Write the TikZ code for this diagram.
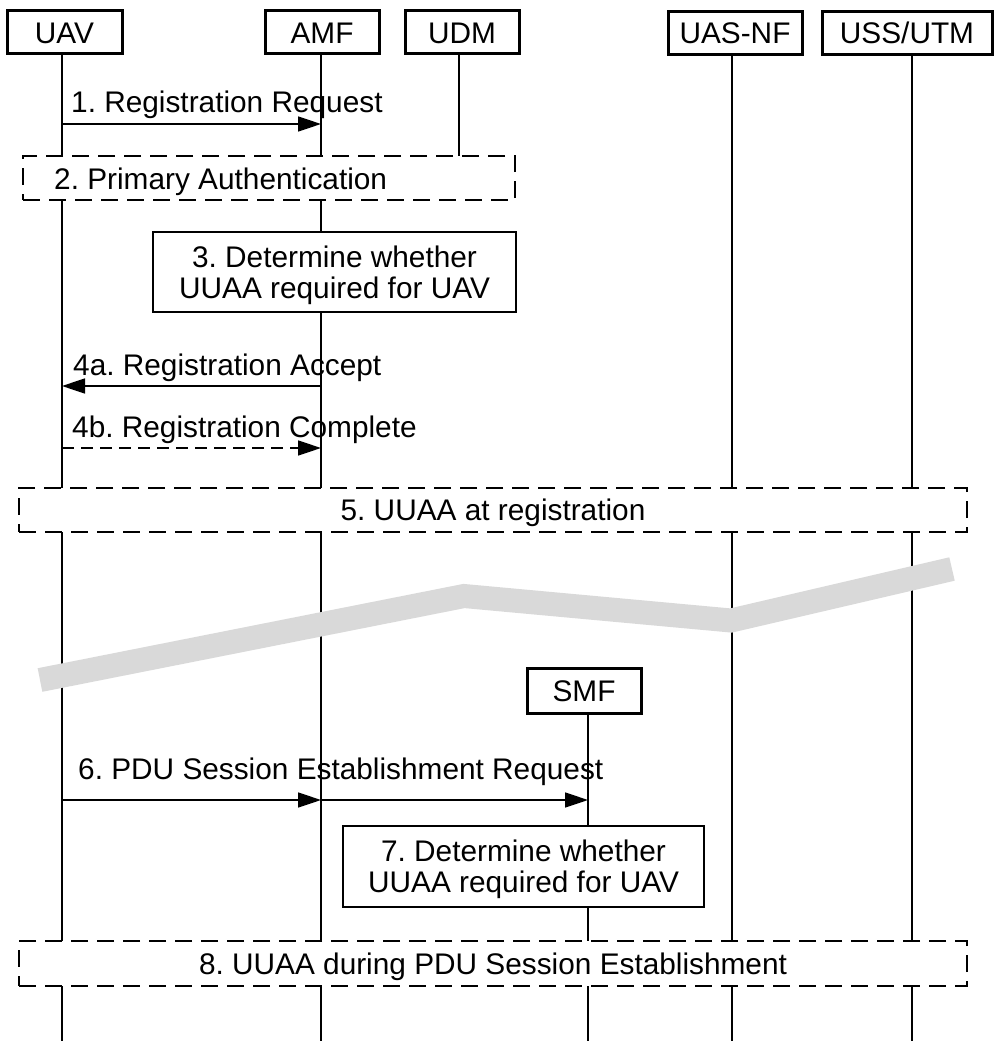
\documentclass[tikz,border=0pt]{standalone}
\usepackage{fontspec}
\setmainfont{Liberation Sans}
\usetikzlibrary{arrows.meta,calc}
\frenchspacing
\begin{document}
\begin{tikzpicture}[x=1pt,y=-1pt,
  every node/.style={font=\fontsize{29.8}{31}\selectfont},
  part/.style={draw, line width=3pt, inner sep=0pt, minimum height=43pt, text height=21.5pt, text depth=0pt},
  life/.style={line width=1.2pt},
  msg/.style={line width=1.6pt, -{Triangle[length=23pt,width=15pt]}},
  dmsg/.style={msg, dash pattern=on 12pt off 7pt},
  proc/.style={draw, line width=1.8pt, fill=white, align=center, inner sep=0pt, text depth=-3pt},
  grp/.style={draw, line width=2.5pt, dash pattern=on 17pt off 9pt, fill=white, inner sep=0pt, text height=21.5pt, text depth=0pt},
  lbl/.style={anchor=base west, inner sep=0pt},
  band/.style={line width=24pt, black!15, line join=miter, line cap=butt},
]
\useasboundingbox (0,0) rectangle (994,1041);
\fill[white] (0,0) rectangle (994,1041);

% participants
\node[part, minimum width=115pt] (UAV) at (64.5,32.5) {UAV};
\node[part, minimum width=114pt] (AMF) at (322,32.5) {AMF};
\node[part, minimum width=114pt] (UDM) at (462,32.5) {UDM};
\node[part, minimum width=134pt] (UASNF) at (735,33) {UAS-NF};
\node[part, minimum width=170pt] (USS) at (907,33) {USS/UTM};
\node[part, minimum width=114pt, minimum height=45pt] (SMF) at (584,690.5) {SMF};

% lifeline ends
\coordinate (eUAV) at (62,1041);
\coordinate (eAMF) at (321,1041);
\coordinate (eUDM) at (459,156);
\coordinate (eUASNF) at (732,1041);
\coordinate (eUSS) at (912,1041);
\coordinate (eSMF) at (588,1041);

% lifelines
\draw[life] (UAV.south -| eUAV) -- (eUAV);
\draw[life] (AMF.south -| eAMF) -- (eAMF);
\draw[life] (UDM.south -| eUDM) -- (eUDM);
\draw[life] (UASNF.south -| eUASNF) -- (eUASNF);
\draw[life] (USS.south -| eUSS) -- (eUSS);
\draw[life] (SMF.south -| eSMF) -- (eSMF);

% break band
\draw[band] (40,680) -- (464,596) -- (731,620.5) -- (952,569);

% group and process boxes
\node[grp, minimum width=492pt, minimum height=44pt] (G2) at (269,178) {};
\node[lbl] (G2t) at (54,189) {2. Primary Authentication};
\node[proc, minimum width=363pt, minimum height=80pt] (P3) at (334.5,272) {3. Determine whether\\UUAA required for UAV};
\node[grp, minimum width=948pt, minimum height=44pt] (G5) at (493,510) {5. UUAA at registration};
\node[proc, minimum width=361pt, minimum height=81pt] (P7) at (523.5,866.5) {7. Determine whether\\UUAA required for UAV};
\node[grp, minimum width=948pt, minimum height=45pt] (G8) at (493,963.5) {8. UUAA during PDU Session Establishment};

% message endpoints
\coordinate (m1a) at (62,124);  \coordinate (m1b) at (321,124);
\coordinate (m4aA) at (321,386); \coordinate (m4aB) at (62,386);
\coordinate (m4bA) at (62,448); \coordinate (m4bB) at (321,448);
\coordinate (m6a) at (62,800); \coordinate (m6b) at (321,800); \coordinate (m6c) at (588,800);

% messages
\draw[msg] (m1a) -- (m1b);
\node[lbl] (l1) at (71,112) {1. Registration Request};
\draw[msg] (m4aA) -- (m4aB);
\node[lbl] (l4a) at (73,375) {4a. Registration Accept};
\draw[dmsg] (m4bA) -- (m4bB);
\node[lbl] (l4b) at (72,437) {4b. Registration Complete};
\draw[msg] (m6a) -- (m6b);
\draw[msg] (m6b) -- (m6c);
\node[lbl] (l6) at (78,779) {6. PDU Session Establishment Request};
\end{tikzpicture}
\end{document}
